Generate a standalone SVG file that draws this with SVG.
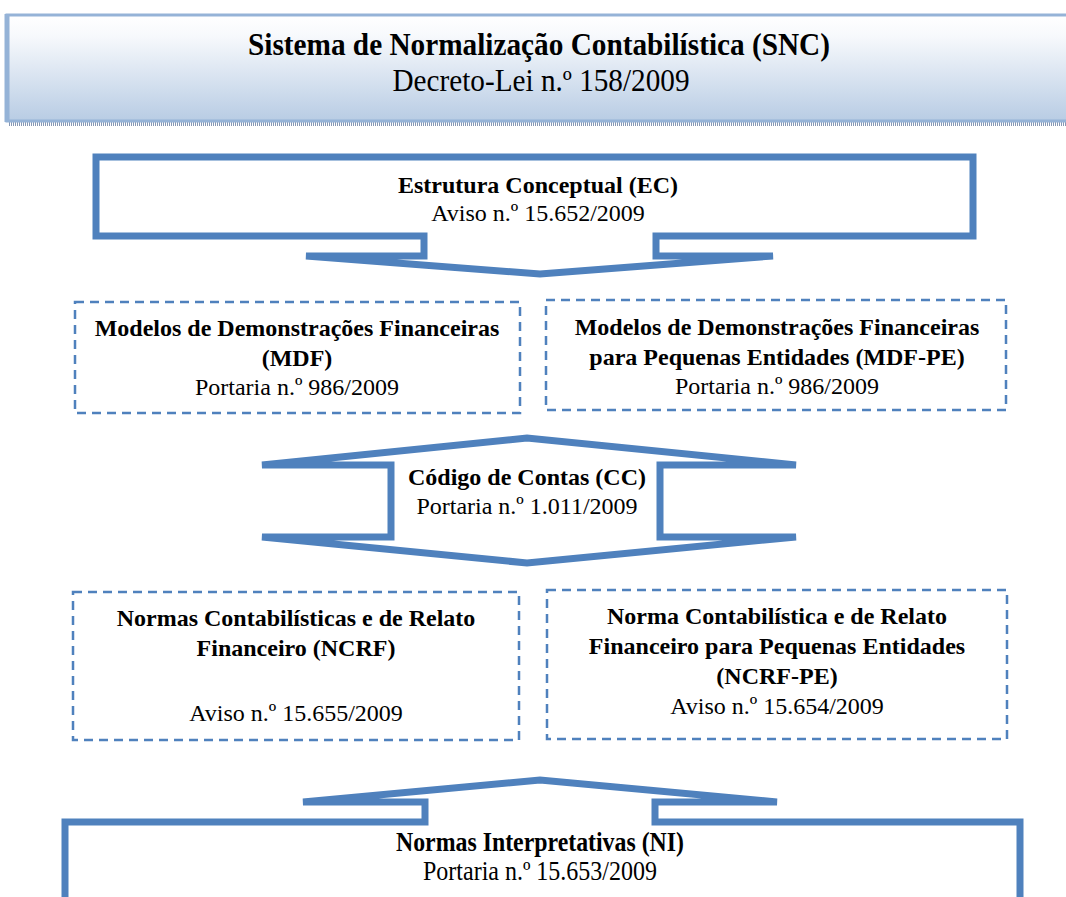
<svg xmlns="http://www.w3.org/2000/svg" width="1066" height="897" viewBox="0 0 1066 897">
<defs>
<linearGradient id="hg" x1="0" y1="0" x2="0" y2="1">
<stop offset="0" stop-color="#ffffff"/>
<stop offset="0.2" stop-color="#f7f9fc"/>
<stop offset="1" stop-color="#b8cce4"/>
</linearGradient>
</defs>
<style>
.b{font-family:"Liberation Serif","Times New Roman",serif;font-weight:bold;fill:#000;text-anchor:middle;font-size:24px}
.r{font-family:"Liberation Serif","Times New Roman",serif;fill:#000;text-anchor:middle;font-size:24px}
.shape{fill:#fff;stroke:#4f81bd;stroke-width:7;stroke-linejoin:miter}
.dash{fill:#fff;stroke:#4f81bd;stroke-width:2.5;stroke-dasharray:9 6}
</style>
<rect width="1066" height="897" fill="#fff"/>
<g id="snc">
<line x1="9" y1="124" x2="1066" y2="124" stroke="#8798b4" stroke-width="4" stroke-dasharray="1 1"/>
<rect x="7" y="15" width="1070" height="106" fill="url(#hg)" stroke="#95b3d7" stroke-width="3"/>
<line x1="7" y1="14" x2="7" y2="122" stroke="#95b3d7" stroke-width="5"/>
<text class="b" x="539" y="55" style="font-size:31px" textLength="582" lengthAdjust="spacingAndGlyphs">Sistema de Normalização Contabilística (SNC)</text>
<text class="r" x="541" y="91" style="font-size:31px" textLength="297" lengthAdjust="spacingAndGlyphs">Decreto-Lei n.º 158/2009</text>
</g>
<g id="ec">
<path class="shape" d="M96,157 H973 V236 H656 V256 H773 L540,274 L306,256 H424 V236 H96 Z"/>
<text class="b" x="538" y="193">Estrutura Conceptual (EC)</text>
<text class="r" x="538" y="221">Aviso n.º 15.652/2009</text>
</g>
<g id="mdf">
<rect class="dash" x="75" y="302" width="445" height="111"/>
<text class="b" x="297" y="336">Modelos de Demonstrações Financeiras</text>
<text class="b" x="297" y="366">(MDF)</text>
<text class="r" x="297" y="395">Portaria n.º 986/2009</text>
</g>
<g id="mdfpe">
<rect class="dash" x="546" y="300" width="460" height="110"/>
<text class="b" x="777" y="335">Modelos de Demonstrações Financeiras</text>
<text class="b" x="777" y="365">para Pequenas Entidades (MDF-PE)</text>
<text class="r" x="777" y="394">Portaria n.º 986/2009</text>
</g>
<g id="cc">
<path class="shape" d="M262,465 L527,438 L796,465 H660 V537 H796 L527,563 L262,537 H391 V465 Z"/>
<text class="b" x="527" y="485">Código de Contas (CC)</text>
<text class="r" x="527" y="514">Portaria n.º 1.011/2009</text>
</g>
<g id="ncrf">
<rect class="dash" x="73" y="592" width="446" height="148"/>
<text class="b" x="296" y="626">Normas Contabilísticas e de Relato</text>
<text class="b" x="296" y="656">Financeiro (NCRF)</text>
<text class="r" x="296" y="721">Aviso n.º 15.655/2009</text>
</g>
<g id="ncrfpe">
<rect class="dash" x="547" y="590" width="460" height="149"/>
<text class="b" x="777" y="624">Norma Contabilística e de Relato</text>
<text class="b" x="777" y="654">Financeiro para Pequenas Entidades</text>
<text class="b" x="777" y="684">(NCRF-PE)</text>
<text class="r" x="777" y="714">Aviso n.º 15.654/2009</text>
</g>
<g id="ni">
<path class="shape" d="M65,905 V822 H425 V802 H303 L540,780 L777,802 H655 V822 H1020 V905"/>
<text class="b" x="540" y="851" style="font-size:27px" textLength="288" lengthAdjust="spacingAndGlyphs">Normas Interpretativas (NI)</text>
<text class="r" x="540" y="880" style="font-size:27px" textLength="234" lengthAdjust="spacingAndGlyphs">Portaria n.º 15.653/2009</text>
</g>
<g id="connectors"></g>
</svg>
